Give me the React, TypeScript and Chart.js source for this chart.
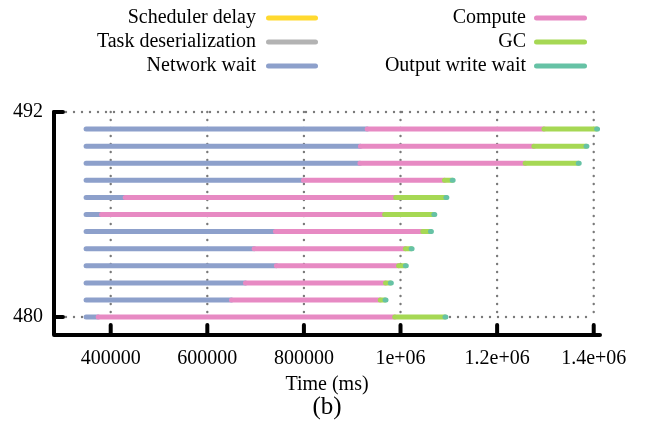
import React, { useEffect, useRef } from 'react';
import { Chart, registerables } from 'chart.js';

Chart.register(...registerables);

// ---- data ----
const taskIds = [480, 481, 482, 483, 484, 485, 486, 487, 488, 489, 490, 491];
const taskStart = [349000, 349000, 349000, 349000, 349000, 349000, 349000, 349000, 349000, 349000, 349000, 349000];
const schedulerDelay = [0, 0, 0, 0, 0, 0, 0, 0, 0, 0, 0, 0];
const taskDeserialization = [0, 0, 0, 0, 0, 0, 0, 0, 0, 0, 0, 0];
const networkWait = [25000, 301000, 330000, 394000, 348000, 392000, 32000, 81000, 450000, 567000, 568000, 582000];
const computeTime = [614000, 308000, 290000, 253000, 313000, 305000, 586000, 560000, 292000, 342000, 359000, 366000];
const gcTime = [104000, 10000, 10000, 14000, 12000, 16000, 102000, 104000, 16000, 110000, 108000, 109000];
const outputWriteWait = [2000, 2000, 2000, 2000, 2000, 2000, 2000, 2000, 2000, 2000, 2000, 2000];

const categoryNames = ['Scheduler delay', 'Task deserialization', 'Network wait', 'Compute', 'GC', 'Output write wait'];
const categoryColors = ['#ffd92f', '#b3b3b3', '#8da0cb', '#e78ac3', '#a6d854', '#66c2a5'];
const categoryValues = [schedulerDelay, taskDeserialization, networkWait, computeTime, gcTime, outputWriteWait];

const xTickValues = [400000, 600000, 800000, 1000000, 1200000, 1400000];
const xTickLabels = ['400000', '600000', '800000', '1e+06', '1.2e+06', '1.4e+06'];
const yTickValues = [480, 492];

const X_MIN = 282600;
const X_MAX = 1413000;
const Y_MIN = 478.95;
const Y_MAX = 492;

const FONT = "'Liberation Serif', 'Times New Roman', serif";

function buildDatasets() {
  const offsets = taskStart.slice();
  return categoryValues.map((vals, k) => {
    const data: any[] = [];
    vals.forEach((d, i) => {
      const s = offsets[i];
      const e = s + d;
      offsets[i] = e;
      if (d > 0) {
        data.push({ x: s, y: taskIds[i] });
        data.push({ x: e, y: taskIds[i] });
        data.push({ x: e, y: null });
      }
    });
    return {
      label: categoryNames[k],
      data,
      showLine: true,
      spanGaps: false,
      borderColor: categoryColors[k],
      backgroundColor: categoryColors[k],
      borderWidth: 5,
      borderCapStyle: 'round',
      borderJoinStyle: 'round',
      pointRadius: 0,
      pointHoverRadius: 0,
      tension: 0,
      order: 10 - k,
    };
  });
}

const decorPlugin = {
  id: 'gnuplotDecor',
  beforeDatasetsDraw(chart: any) {
    const { ctx, scales } = chart;
    const xs = scales.x;
    const ys = scales.y;
    const yTop = ys.getPixelForValue(yTickValues[1]);
    const yBot = ys.getPixelForValue(yTickValues[0]);
    const xLeft = chart.chartArea.left;
    const xRight = xs.getPixelForValue(xTickValues[xTickValues.length - 1]);
    ctx.save();
    ctx.strokeStyle = '#7a7a7a';
    ctx.lineWidth = 2.4;
    ctx.lineCap = 'round';
    ctx.setLineDash([0, 8]);
    // horizontal dotted lines
    yTickValues.forEach((v) => {
      const y = ys.getPixelForValue(v);
      ctx.beginPath();
      ctx.moveTo(xLeft + 4, y);
      ctx.lineTo(xRight, y);
      ctx.stroke();
    });
    // vertical dotted lines
    xTickValues.forEach((v) => {
      const x = xs.getPixelForValue(v);
      ctx.beginPath();
      ctx.moveTo(x, yTop);
      ctx.lineTo(x, yBot);
      ctx.stroke();
    });
    ctx.restore();
  },
  afterDatasetsDraw(chart: any) {
    const { ctx, scales, chartArea } = chart;
    const xs = scales.x;
    const ys = scales.y;
    ctx.save();
    ctx.strokeStyle = '#000';
    ctx.lineWidth = 4;
    ctx.lineCap = 'round';
    ctx.lineJoin = 'round';
    ctx.setLineDash([]);
    // axes
    ctx.beginPath();
    ctx.moveTo(chartArea.left, ys.getPixelForValue(Y_MAX));
    ctx.lineTo(chartArea.left, chartArea.bottom);
    ctx.lineTo(chartArea.right, chartArea.bottom);
    ctx.stroke();
    // y ticks (inward)
    yTickValues.forEach((v) => {
      const y = ys.getPixelForValue(v);
      ctx.beginPath();
      ctx.moveTo(chartArea.left, y);
      ctx.lineTo(chartArea.left + 9, y);
      ctx.stroke();
    });
    // x ticks (inward)
    xTickValues.forEach((v) => {
      const x = xs.getPixelForValue(v);
      ctx.beginPath();
      ctx.moveTo(x, chartArea.bottom);
      ctx.lineTo(x, chartArea.bottom - 10);
      ctx.stroke();
    });
    ctx.restore();
  },
  afterDraw(chart: any) {
    const { ctx, chartArea } = chart;
    ctx.save();
    // legend
    ctx.font = `20px ${FONT}`;
    ctx.fillStyle = '#000';
    ctx.textAlign = 'right';
    ctx.textBaseline = 'middle';
    const cols = [
      { textRight: 256, lineStart: 268.5, lineEnd: 315.5 },
      { textRight: 526, lineStart: 536.5, lineEnd: 584.5 },
    ];
    const rows = [18, 42, 66];
    categoryNames.forEach((name, k) => {
      const c = cols[Math.floor(k / 3)];
      const y = rows[k % 3];
      ctx.fillText(name, c.textRight, y);
      ctx.strokeStyle = categoryColors[k];
      ctx.lineWidth = 5;
      ctx.lineCap = 'round';
      ctx.beginPath();
      ctx.moveTo(c.lineStart, y);
      ctx.lineTo(c.lineEnd, y);
      ctx.stroke();
    });
    // caption
    ctx.font = `25px ${FONT}`;
    ctx.textAlign = 'center';
    ctx.fillText('(b)', (chartArea.left + chartArea.right) / 2, 407);
    ctx.restore();
  },
};

export default function App() {
  const ref = useRef<HTMLCanvasElement | null>(null);
  useEffect(() => {
    if (!ref.current) return;
    const chart = new Chart(ref.current, {
      type: 'scatter',
      data: { datasets: buildDatasets() as any },
      options: {
        animation: false,
        responsive: false,
        events: [],
        layout: { padding: { top: 112, right: 46, left: 0, bottom: 0 } },
        font: { family: FONT, size: 20 },
        plugins: {
          legend: { display: false },
          tooltip: { enabled: false },
        },
        scales: {
          x: {
            type: 'linear',
            position: 'bottom',
            min: X_MIN,
            max: X_MAX,
            afterBuildTicks: (s: any) => {
              s.ticks = xTickValues.map((v) => ({ value: v }));
            },
            afterFit: (s: any) => {
              s.height = 93;
            },
            ticks: {
              autoSkip: false,
              maxRotation: 0,
              minRotation: 0,
              padding: 12,
              color: '#000',
              font: { family: FONT, size: 20 },
              callback: (v: any) => xTickLabels[xTickValues.indexOf(Number(v))] ?? '',
            },
            grid: { display: false, drawTicks: false },
            border: { display: false },
            title: {
              display: true,
              text: 'Time (ms)',
              color: '#000',
              font: { family: FONT, size: 20 },
              padding: { top: 0, bottom: 31 },
            },
          },
          y: {
            type: 'linear',
            min: Y_MIN,
            max: Y_MAX,
            afterBuildTicks: (s: any) => {
              s.ticks = yTickValues.map((v) => ({ value: v }));
            },
            afterFit: (s: any) => {
              s.width = 54;
            },
            ticks: {
              padding: 11,
              color: '#000',
              font: { family: FONT, size: 20 },
              callback: (v: any) => String(v),
            },
            grid: { display: false, drawTicks: false },
            border: { display: false },
          },
        },
      } as any,
      plugins: [decorPlugin],
    });
    return () => chart.destroy();
  }, []);
  return (
    <div style={{ position: 'fixed', left: 0, top: 0, width: 646, height: 428, background: '#fff' }}>
      <canvas ref={ref} width={646} height={428} />
    </div>
  );
}
